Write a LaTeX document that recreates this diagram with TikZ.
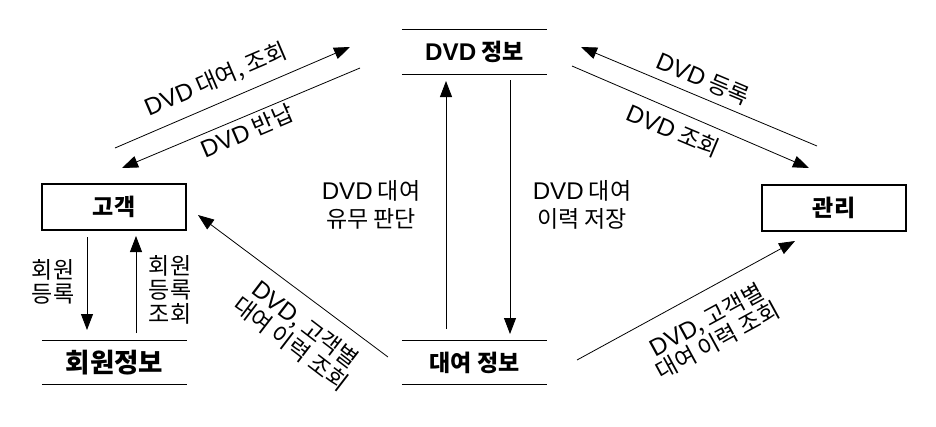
\documentclass[tikz,border=0pt]{standalone}
\usepackage{fontspec}
\setmainfont{Noto Sans CJK KR}
\newfontfamily\latfont[Scale=1.05]{Liberation Sans}
\newcommand{\DVD}{{\latfont DVD}}
\usetikzlibrary{arrows.meta}
\begin{document}
\begin{tikzpicture}[x=1pt,y=-1pt,
  lbl/.style={font=\fontsize{23}{24}\selectfont, align=center, inner sep=0pt},
  ent/.style={draw, line width=2pt, minimum width=144pt, minimum height=46pt, inner sep=0pt, font=\fontsize{23}{26}\selectfont\bfseries},
  store/.style={minimum width=145pt, minimum height=44pt, inner sep=0pt, font=\fontsize{23}{26}\selectfont\bfseries},
  storeline/.style={line width=1pt},
  arr/.style={-{Triangle[length=16pt,width=12pt]}, line width=0.8pt}]
\useasboundingbox (0,0) rectangle (936,426);

% entities
\node[ent] (cust) at (114,207) {고객};
\node[ent] (mgr) at (834,207.5) {관리};

% data stores
\node[store] (dvd) at (474.5,52) {\DVD{} 정보};
\node[store] (rent) at (474.5,362.5) {대여 정보};
\node[store, font=\fontsize{26.5}{28}\selectfont\bfseries] (mem) at (114.5,362.5) {회원정보};
\foreach \s in {dvd,rent,mem}{
  \draw[storeline] (\s.north west) -- (\s.north east) (\s.south west) -- (\s.south east);
}

% endpoints
\coordinate (c1a) at (115,148);  \coordinate (c1b) at (350,47);
\coordinate (c2a) at (360,68);   \coordinate (c2b) at (122,168);
\coordinate (m1a) at (817,146);  \coordinate (m1b) at (581,47);
\coordinate (m2a) at (572,66);   \coordinate (m2b) at (809,168);
\coordinate (v1a) at (446,329);  \coordinate (v1b) at (446,81);
\coordinate (v2a) at (510,80);   \coordinate (v2b) at (510,334);
\coordinate (k1a) at (87,237);   \coordinate (k1b) at (87,330);
\coordinate (k2a) at (136,333);  \coordinate (k2b) at (136,236);
\coordinate (d1a) at (388,357);  \coordinate (d1b) at (198,215);
\coordinate (d2a) at (577,360);  \coordinate (d2b) at (795,241);

\draw[arr] (c1a) -- (c1b);
\draw[arr] (c2a) -- (c2b);
\draw[arr] (m1a) -- (m1b);
\draw[arr] (m2a) -- (m2b);
\draw[arr] (v1a) -- (v1b);
\draw[arr] (v2a) -- (v2b);
\draw[arr] (k1a) -- (k1b);
\draw[arr] (k2a) -- (k2b);
\draw[arr] (d1a) -- (d1b);
\draw[arr] (d2a) -- (d2b);

% labels
\node[lbl, rotate=23.2] (l1) at (216,80) {\DVD{} 대여, 조회};
\node[lbl, rotate=23.2] (l2) at (247,131) {\DVD{} 반납};
\node[lbl, rotate=-22.8] (l3) at (703,79) {\DVD{} 등록};
\node[lbl, rotate=-22.8] (l4) at (673,131) {\DVD{} 조회};
\node[lbl, font=\fontsize{23}{28}\selectfont] (l5) at (371,205) {\DVD{} 대여\\유무 판단};
\node[lbl, font=\fontsize{23}{28}\selectfont] (l6) at (582,205) {\DVD{} 대여\\이력 저장};
\node[lbl] (l7) at (53,282) {회원\\등록};
\node[lbl] (l8) at (170,290) {회원\\등록\\조회};
\node[lbl, rotate=-37.5] (l9) at (298,334) {\DVD, 고객별\\대여 이력 조회};
\node[lbl, rotate=28.6] (l10) at (712,330) {\DVD, 고객별\\대여 이력 조회};
\end{tikzpicture}
\end{document}
